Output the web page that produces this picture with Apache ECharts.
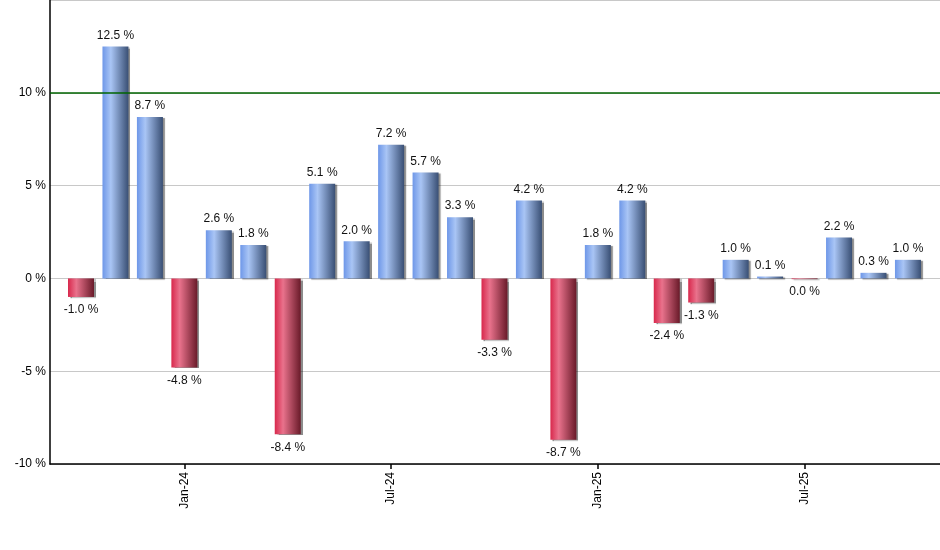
<!DOCTYPE html>
<html>
<head>
<meta charset="utf-8">
<script src="https://cdn.jsdelivr.net/npm/echarts@6/dist/echarts.min.js"></script>
<style>
html,body{margin:0;padding:0;background:#fff;}
#c{width:940px;height:550px;}
</style>
</head>
<body>
<div id="c"></div>
<script>
var months = ['Oct-23','Nov-23','Dec-23','Jan-24','Feb-24','Mar-24','Apr-24','May-24','Jun-24','Jul-24','Aug-24','Sep-24','Oct-24','Nov-24','Dec-24','Jan-25','Feb-25','Mar-25','Apr-25','May-25','Jun-25','Jul-25','Aug-25','Sep-25','Oct-25'];
var returns = [-1.0, 12.5, 8.7, -4.8, 2.6, 1.8, -8.4, 5.1, 2.0, 7.2, 5.7, 3.3, -3.3, 4.2, -8.7, 1.8, 4.2, -2.4, -1.3, 1.0, 0.1, -0.04, 2.2, 0.3, 1.0];
var tickMonths = ['Jan-24','Jul-24','Jan-25','Jul-25'];
var yTicks = [-10, -5, 0, 5, 10, 15];
var refLine = 10;

function grad(pos) {
  return pos ? new echarts.graphic.LinearGradient(0,0,1,0,[
    {offset:0,color:'#6e97e8'},{offset:0.32,color:'#a9c5f5'},{offset:1,color:'#394f74'}])
  : new echarts.graphic.LinearGradient(0,0,1,0,[
    {offset:0,color:'#d8284c'},{offset:0.32,color:'#e9728c'},{offset:1,color:'#691a29'}]);
}

var data = returns.map(function(v,i){
  var pos = v >= 0;
  return {
    value:[i,v],
    itemStyle:{color:grad(pos)},
    label:{position: pos ? 'top' : 'bottom', distance: pos ? 5 : 7}
  };
});

var tickIdx = tickMonths.map(function(m){return months.indexOf(m);});

var chart = echarts.init(document.getElementById('c'));
chart.setOption({
  animation:false,
  grid:{left:50,right:0,top:0,bottom:86,containLabel:false},
  xAxis:{
    type:'value',
    min:-0.9, max:24.93,
    axisLine:{show:true,onZero:false,lineStyle:{color:'#000',width:1.5}},
    axisTick:{show:true,customValues:tickIdx,length:5,lineStyle:{color:'#000',width:1.5}},
    axisLabel:{customValues:tickIdx,rotate:90,color:'#000',fontFamily:'Liberation Sans',fontSize:12,margin:8,
      formatter:function(v){return months[Math.round(v)];}},
    splitLine:{show:false}
  },
  yAxis:{
    type:'value',
    min:yTicks[0], max:yTicks[yTicks.length-1], interval:5,
    axisLine:{show:true,onZero:false,lineStyle:{color:'#000',width:1.5}},
    axisTick:{show:false},
    axisLabel:{color:'#000',fontFamily:'Liberation Sans',fontSize:12,margin:4,
      formatter:function(v){return v===15?'':v+' %';}},
    splitLine:{show:true,lineStyle:{color:'#c8c8c8',width:1}}
  },
  series:[{
    type:'bar',
    barWidth:26,
    data:data,
    itemStyle:{shadowColor:'rgba(0,0,0,0.45)',shadowOffsetX:2,shadowOffsetY:1,shadowBlur:1},
    label:{show:true,color:'#111',fontFamily:'Liberation Sans',fontSize:12,
      formatter:function(p){return Math.abs(p.value[1]).toFixed(1)==='0.0'?'0.0 %':p.value[1].toFixed(1)+' %';}},
    markLine:{
      silent:true,symbol:'none',label:{show:false},
      lineStyle:{color:'#006400',type:'solid',width:1.5},
      data:[{yAxis:refLine}]
    }
  }]
});
</script>
</body>
</html>
